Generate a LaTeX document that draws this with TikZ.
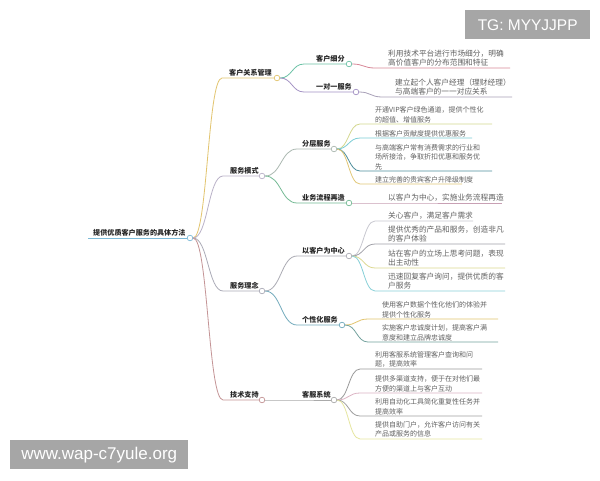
\documentclass[tikz,border=0pt]{standalone}
\usepackage{fontspec}
\setmainfont{Liberation Sans}
\newfontfamily\cjk{Noto Sans CJK SC}
\usetikzlibrary{calc}
\definecolor{rootc}{HTML}{7DBAD8}
\definecolor{crmC}{HTML}{E2C46E}
\definecolor{fwmsC}{HTML}{BAB2C8}
\definecolor{fwlnC}{HTML}{ACACB8}
\definecolor{jszcC}{HTML}{C49496}
\definecolor{khxfC}{HTML}{6CC2A6}
\definecolor{ydyC}{HTML}{A492C4}
\definecolor{fcfwC}{HTML}{AAB8B0}
\definecolor{ywlcC}{HTML}{74BA94}
\definecolor{ykhC}{HTML}{ACACB4}
\definecolor{gxhC}{HTML}{72AABC}
\definecolor{kfxtC}{HTML}{AAAAAA}
\definecolor{wm}{HTML}{A6A6A6}
\tikzset{
  x=1pt, y=-1pt,
  edge/.style={line width=0.8pt},
  dot/.style={circle, draw, fill=white, minimum size=5.6pt, inner sep=0pt, line width=0.7pt},
  lab/.style={font=\cjk\bfseries\fontsize{7.1}{9}\selectfont, text=black!85, inner sep=0pt, anchor=south west},
  leafa/.style={font=\cjk\fontsize{7.7}{9.3}\selectfont, text=black!62, inner sep=0pt, anchor=south west, align=left},
  leafb/.style={font=\cjk\fontsize{7.0}{9.3}\selectfont, text=black!62, inner sep=0pt, anchor=south west, align=left},
  wmbox/.style={fill=wm, draw=none, text=white, inner sep=0pt}
}
% internal node: #1 name, #2 parent, #3 colour, #4 start x, #5 text x, #6 underline y, #7 dot x, #8 text
\newcommand\mmnode[8]{%
  \coordinate (#1s) at (#4,#6);
  \node[dot, draw=#3] (#1c) at (#7,#6) {};
  \node[lab] (#1) at (#5,#6-1.2) {#8};
  \draw[edge, #3] let \p1=(#2c.east), \p2=(#1s), \n1={(\x2-\x1)/2} in
    (\p1) .. controls +(\n1,0) and +(-\n1,0) .. (\p2) -- (#1c.west);
}
% leaf: #1 name, #2 parent, #3 colour, #4 style, #5 start x, #6 text x, #7 underline y, #8 end x, #9 text
\newcommand\mmleaf[9]{%
  \coordinate (#1s) at (#5,#7);
  \coordinate (#1e) at (#8,#7);
  \node[#4] (#1) at (#6,#7-1.2) {#9};
  \draw[edge, #3] let \p1=(#2c.east), \p2=(#1s), \n1={(\x2-\x1)/2} in
    (\p1) .. controls +(\n1,0) and +(-\n1,0) .. (\p2) -- (#1e);
}
\begin{document}
\begin{tikzpicture}
\useasboundingbox[fill=white] (0,0) rectangle (600,480);
% root
\coordinate (roots) at (88,238);
\node[dot, draw=rootc] (rootc) at (190,238) {};
\node[lab] (root) at (93,236.8) {提供优质客户服务的具体方法};
\draw[edge, rootc] (roots) -- (rootc.west);
% level 1
\mmnode{crm}{root}{crmC}{222}{229}{78}{277}{客户关系管理}
\mmnode{fwms}{root}{fwmsC}{223}{230}{176}{262}{服务模式}
\mmnode{fwln}{root}{fwlnC}{223}{230}{291}{262}{服务理念}
\mmnode{jszc}{root}{jszcC}{223}{230}{400}{262}{技术支持}
% level 2
\mmnode{khxf}{crm}{khxfC}{304}{316}{64}{349}{客户细分}
\mmnode{ydy}{crm}{ydyC}{304}{316}{92}{356}{一对一服务}
\mmnode{fcfw}{fwms}{fcfwC}{297}{302}{149}{334}{分层服务}
\mmnode{ywlc}{fwms}{ywlcC}{297}{302}{203}{349}{业务流程再造}
\mmnode{ykh}{fwln}{ykhC}{297}{302}{256}{349}{以客户为中心}
\mmnode{gxh}{fwln}{gxhC}{297}{302}{325}{342}{个性化服务}
\mmnode{kfxt}{jszc}{kfxtC}{297}{302}{400}{334}{客服系统}
% leaves
\mmleaf{la1}{khxf}{color={rgb,255:red,216;green,136;blue,152}}{leafa}{375}{388}{68}{510}{利用技术平台进行市场细分，明确\\高价值客户的分布范围和特征}
\mmleaf{lb1}{ydy}{color={rgb,255:red,168;green,160;blue,184}}{leafa}{382}{395}{97}{512}{建立起个人客户经理（理财经理）\\与高端客户的一一对应关系}
\mmleaf{lc1}{fcfw}{color={rgb,255:red,212;green,216;blue,144}}{leafb}{360}{375}{124}{492}{开通VIP客户绿色通道，提供个性化\\的超值、增值服务}
\mmleaf{lc2}{fcfw}{color={rgb,255:red,124;green,205;blue,214}}{leafb}{360}{375}{138}{472}{根据客户贡献度提供优惠服务}
\mmleaf{lc3}{fcfw}{color={rgb,255:red,78;green,142;blue,156}}{leafb}{360}{375}{171}{492}{与高端客户常有消费需求的行业和\\场所接洽，争取折扣优惠和服务优\\先}
\mmleaf{lc4}{fcfw}{color={rgb,255:red,226;green,200;blue,120}}{leafb}{360}{375}{184}{462}{建立完善的贵宾客户升降级制度}
\mmleaf{ld1}{ywlc}{color={rgb,255:red,200;green,160;blue,180}}{leafa}{375}{388}{203}{502}{以客户为中心，实施业务流程再造}
\mmleaf{le1}{ykh}{color={rgb,255:red,200;green,200;blue,208}}{leafa}{375}{388}{221}{473}{关心客户，满足客户需求}
\mmleaf{le2}{ykh}{color={rgb,255:red,160;green,160;blue,168}}{leafa}{375}{388}{244}{505}{提供优秀的产品和服务，创造非凡\\的客户体验}
\mmleaf{le3}{ykh}{color={rgb,255:red,220;green,216;blue,144}}{leafa}{375}{388}{268}{505}{站在客户的立场上思考问题，表现\\出主动性}
\mmleaf{le4}{ykh}{color={rgb,255:red,136;green,208;blue,216}}{leafa}{375}{388}{291}{505}{迅速回复客户询问，提供优质的客\\户服务}
\mmleaf{lf1}{gxh}{color={rgb,255:red,226;green,196;blue,110}}{leafb}{368}{382}{319}{498}{使用客户数据个性化他们的体验并\\提供个性化服务}
\mmleaf{lf2}{gxh}{color={rgb,255:red,116;green,162;blue,158}}{leafb}{368}{382}{342}{498}{实施客户忠诚度计划，提高客户满\\意度和建立品牌忠诚度}
\mmleaf{lg1}{kfxt}{color={rgb,255:red,154;green,154;blue,154}}{leafb}{360}{375}{369}{482}{利用客服系统管理客户查询和问\\题，提高效率}
\mmleaf{lg2}{kfxt}{color={rgb,255:red,220;green,180;blue,196}}{leafb}{360}{375}{393}{482}{提供多渠道支持，便于在对他们最\\方便的渠道上与客户互动}
\mmleaf{lg3}{kfxt}{color={rgb,255:red,160;green,160;blue,160}}{leafb}{360}{375}{416}{482}{利用自动化工具简化重复性任务并\\提高效率}
\mmleaf{lg4}{kfxt}{color={rgb,255:red,230;green,230;blue,160}}{leafb}{360}{375}{439}{482}{提供自助门户，允许客户访问有关\\产品或服务的信息}
% watermarks
\node[wmbox, minimum width=125pt, minimum height=29pt, anchor=north west, font=\fontsize{15.5}{15.5}\selectfont] (tg) at (465,10) {TG: MYYJJPP};
\node[wmbox, minimum width=178pt, minimum height=29pt, anchor=north west, font=\fontsize{17}{17}\selectfont] (www) at (10,440) {www.wap-c7yule.org};
\end{tikzpicture}
\end{document}
